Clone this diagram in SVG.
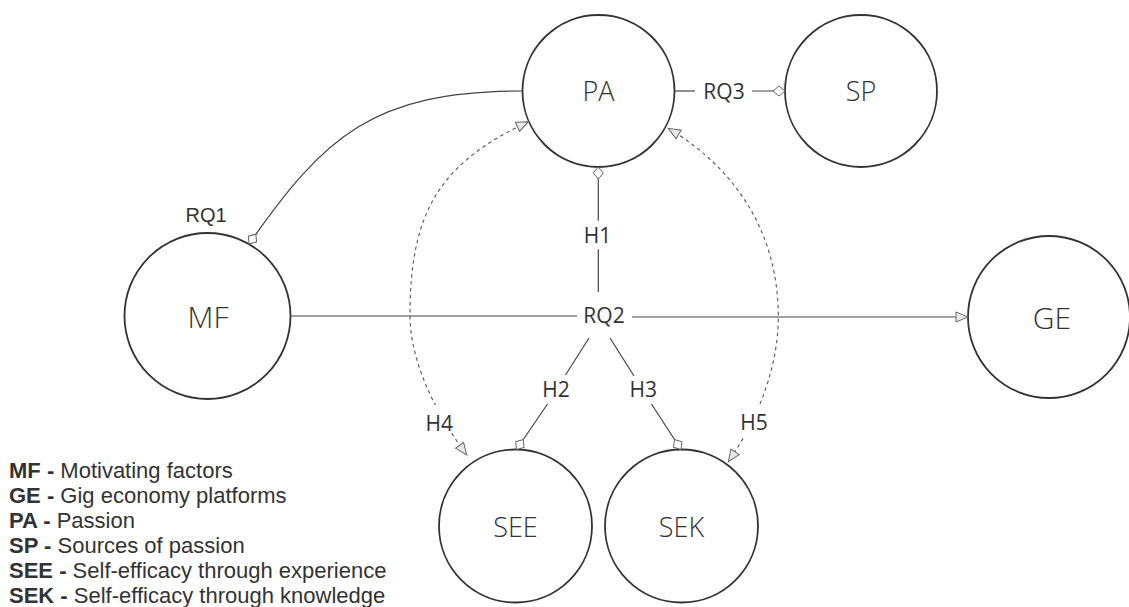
<svg xmlns="http://www.w3.org/2000/svg" width="1129" height="607" viewBox="0 0 1129 607">
<style>
.node circle{fill:#fff;stroke:#333;stroke-width:1.8}
.node text{font-family:"Open Sans","DejaVu Sans",sans-serif;font-weight:300;fill:#333;text-anchor:middle}
.ln{fill:none;stroke:#444;stroke-width:1.2}
.dash{fill:none;stroke:#555;stroke-width:1.1;stroke-dasharray:3.5 3.5}
.lbl{font-family:"Open Sans","DejaVu Sans",sans-serif;font-size:21px;fill:#333;text-anchor:middle}
.lbl2{font-family:"Liberation Sans",Arial,sans-serif;font-size:20px;fill:#333;text-anchor:middle}
.legend{font-family:"Liberation Sans",Arial,sans-serif;font-size:22px;fill:#333}
.b{font-weight:bold}
.bg{fill:#fff;stroke:none}
</style>
<defs>
<marker id="dia" markerUnits="userSpaceOnUse" markerWidth="14" markerHeight="12" refX="12" refY="5" orient="auto" overflow="visible"><path d="M0,5 L6,0 L12,5 L6,10 Z" fill="#fff" stroke="#666" stroke-width="1"/></marker>
<marker id="tri" markerUnits="userSpaceOnUse" markerWidth="14" markerHeight="12" refX="12" refY="5" orient="auto-start-reverse" overflow="visible"><path d="M0,0 L12,5 L0,10 Z" fill="#e8e8e8" stroke="#666" stroke-width="1"/></marker>
</defs>
<rect width="1129" height="607" fill="#fff"/>
<g id="PA" class="node"><circle cx="598.5" cy="91" r="76"/><text x="598.5" y="101" font-size="27">PA</text></g>
<g id="SP" class="node"><circle cx="861" cy="91" r="76"/><text x="861" y="101" font-size="27">SP</text></g>
<g id="MF" class="node"><circle cx="207.5" cy="316" r="83"/><text x="208" y="328" font-size="30">MF</text></g>
<g id="GE" class="node"><circle cx="1049" cy="317" r="81"/><text x="1052" y="329" font-size="30">GE</text></g>
<g id="SEE" class="node"><circle cx="515.5" cy="526" r="76.5"/><text x="515.5" y="537" font-size="27">SEE</text></g>
<g id="SEK" class="node"><circle cx="681.5" cy="526" r="76.5"/><text x="681.5" y="537" font-size="27">SEK</text></g>
<g id="connectors">
<path class="ln" d="M522.5 91 C372 91 323.6 137.5 249 244" marker-end="url(#dia)"/>
<text class="lbl2" x="206" y="222">RQ1</text>
<path class="ln" d="M674.5 91 L695 91"/>
<path class="ln" d="M752 91 L785 91" marker-end="url(#dia)"/>
<text class="lbl" x="724" y="99">RQ3</text>
<path class="ln" d="M290.5 316 L577 316"/>
<path class="ln" d="M632 317 L968 317" marker-end="url(#tri)"/>
<text class="lbl" x="604" y="323">RQ2</text>
<path class="ln" d="M598.3 220.7 L598.3 167" marker-end="url(#dia)"/>
<path class="ln" d="M598.3 292 L598.3 249.3"/>
<text class="lbl" x="597.5" y="242.5">H1</text>
<path class="ln" d="M589 338 L565.5 375"/>
<path class="ln" d="M547.5 404 L516.5 449.5" marker-end="url(#dia)"/>
<text class="lbl" x="556" y="397">H2</text>
<path class="ln" d="M610 338 L634 376"/>
<path class="ln" d="M651.5 404 L681 449.5" marker-end="url(#dia)"/>
<text class="lbl" x="643.3" y="397">H3</text>
<path class="dash" d="M528.3 121.7 C439.6 163.3 410 212 410 315 C410 356 429.9 405.1 466.7 455" marker-start="url(#tri)" marker-end="url(#tri)"/>
<rect class="bg" x="424" y="405" width="32" height="27"/>
<text class="lbl" x="439.3" y="431">H4</text>
<path class="dash" d="M668.3 128.3 C739.9 171.2 778.3 237.1 778.3 316.7 C778.3 364 760.8 414.8 728.3 461.7" marker-start="url(#tri)" marker-end="url(#tri)"/>
<rect class="bg" x="737" y="405" width="34" height="31"/>
<text class="lbl" x="754" y="430">H5</text>
</g>
<g id="legend" class="legend">
<text x="9" y="477.5"><tspan class="b">MF -</tspan> Motivating factors</text>
<text x="9" y="502.5"><tspan class="b">GE -</tspan> Gig economy platforms</text>
<text x="9" y="528"><tspan class="b">PA -</tspan> Passion</text>
<text x="9" y="553"><tspan class="b">SP -</tspan> Sources of passion</text>
<text x="9" y="578"><tspan class="b">SEE -</tspan> Self-efficacy through experience</text>
<text x="9" y="603"><tspan class="b">SEK -</tspan> Self-efficacy through knowledge</text>
</g>
</svg>
